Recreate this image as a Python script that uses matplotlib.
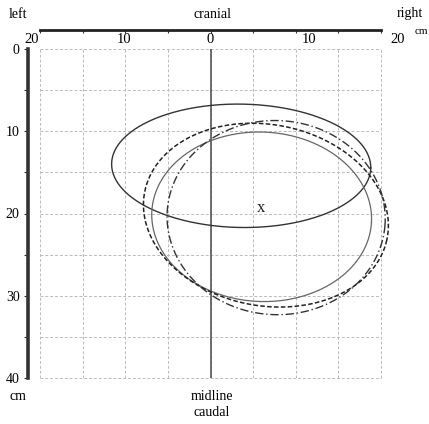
import numpy as np
import matplotlib
matplotlib.use('Agg')
from matplotlib import pyplot as plt

plt.rcParams['font.family'] = ['Liberation Serif', 'DejaVu Serif']

# ellipses: centre x, centre y, half width, half height, tilt (deg)
cx = [3.6, 6.0, 6.5, 7.7]
cy = [14.2, 20.4, 20.2, 20.5]
ha = [15.2, 12.9, 14.5, 12.8]
hb = [7.5, 10.3, 11.0, 11.8]
tilt = [1.0, 3.0, 12.0, 4.0]
styles = ['-', '-', (0, (3, 1.5)), (0, (6, 2, 1, 2))]
colors = ['#333333', '#666666', '#222222', '#333333']
widths = [1.0, 0.9, 1.1, 1.0]

mark_x, mark_y = 5.9, 19.3

top_labels = ['20', '10', '0', '10', '20']
top_label_x = [-21.0, -10.2, 0.0, 11.5, 22.0]
y_ticks = np.arange(0, 41, 5)
y_labels = ['0', '', '10', '', '20', '', '30', '', '40']

fig = plt.figure(figsize=(4.29, 4.24), dpi=100)
ax = fig.add_axes([40/429, (424-378)/424, (381-40)/429, (378-49)/424])
ax.set_xlim(-20, 20)
ax.set_ylim(40, 0)

ax.set_xticks(np.arange(-20, 21, 5))
ax.set_yticks(y_ticks)
ax.set_yticklabels(y_labels, fontsize=10.5)
ax.set_yticks(np.arange(0, 41, 1), minor=True)
ax.xaxis.tick_top()
ax.tick_params(axis='x', which='both', length=2.5, width=0.8, direction='in',
               labeltop=False, color='#333333')
ax.tick_params(axis='y', which='major', length=3, width=0.8, pad=3, color='#333333')
ax.tick_params(axis='y', which='minor', length=1.5, width=0.6, color='#555555')
ax.grid(True, color='#bbbbbb', linestyle=(0, (3, 2)), linewidth=0.7)

for s in ['right', 'bottom']:
    ax.spines[s].set_visible(False)
ax.spines['left'].set_position(('outward', 8.6))
ax.spines['left'].set_linewidth(2.6)
ax.spines['left'].set_color('#333333')
ax.spines['top'].set_position(('outward', 13.7))
ax.spines['top'].set_linewidth(2.0)
ax.spines['top'].set_color('#222222')

# grid edge lines at right and bottom
ax.axvline(20, color='#bbbbbb', linestyle=(0, (3, 2)), linewidth=0.7, clip_on=False)
ax.axhline(40, color='#bbbbbb', linestyle=(0, (3, 2)), linewidth=0.7, clip_on=False)

# midline
ax.axvline(0, color='#555555', linewidth=1.2)

t = np.linspace(0, 2*np.pi, 400)
for i in range(len(cx)):
    th = np.radians(tilt[i])
    x = cx[i] + ha[i]*np.cos(t)*np.cos(th) - hb[i]*np.sin(t)*np.sin(th)
    y = cy[i] + ha[i]*np.cos(t)*np.sin(th) + hb[i]*np.sin(t)*np.cos(th)
    ax.plot(x, y, linestyle=styles[i], color=colors[i], linewidth=widths[i], clip_on=False)

ax.text(mark_x, mark_y, 'x', fontsize=12, ha='center', va='center', color='#222222')

for lx, lt in zip(top_label_x, top_labels):
    ax.text(lx, -0.4, lt, fontsize=10.5, ha='center', va='bottom', clip_on=False)

fig.text(18/429, 1 - 14/424, 'left', fontsize=10, ha='center', va='center')
fig.text(212/429, 1 - 14/424, 'cranial', fontsize=10, ha='center', va='center')
fig.text(410/429, 1 - 14/424, 'right', fontsize=10, ha='center', va='center')
fig.text(421/429, 1 - 31/424, 'cm', fontsize=8, ha='center', va='center')
fig.text(18/429, 1 - 396/424, 'cm', fontsize=10, ha='center', va='center')
fig.text(212/429, 1 - 396/424, 'midline', fontsize=10, ha='center', va='center')
fig.text(212/429, 1 - 413/424, 'caudal', fontsize=10, ha='center', va='center')

fig.savefig('out.png', dpi=100)
